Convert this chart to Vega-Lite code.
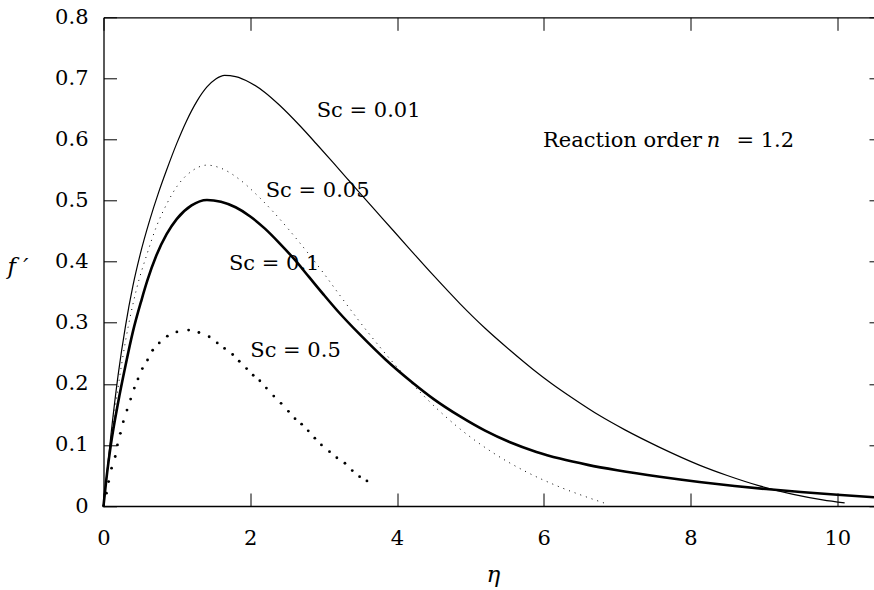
{
  "$schema": "https://vega.github.io/schema/vega-lite/v6.json",
  "width": 770.5,
  "height": 488.7,
  "autosize": "none",
  "padding": {"left": 103.5, "top": 17.3, "right": 0, "bottom": 84},
  "background": "white",
  "config": {
    "font": "DejaVu Serif",
    "view": {"stroke": null},
    "axis": {
      "grid": false,
      "domainColor": "black",
      "domainWidth": 1.3,
      "tickColor": "black",
      "tickWidth": 1,
      "labelColor": "black",
      "labelFont": "DejaVu Serif",
      "labelFontSize": 21,
      "titleColor": "black",
      "titleFont": "DejaVu Serif",
      "titleFontSize": 23,
      "titleFontStyle": "italic",
      "titleFontWeight": "normal"
    }
  },
  "datasets": {
    "curves": [
      {"Sc": "0.01", "eta": 0, "f": 0},
      {"Sc": "0.01", "eta": 0.1, "f": 0.115},
      {"Sc": "0.01", "eta": 0.2, "f": 0.215},
      {"Sc": "0.01", "eta": 0.3, "f": 0.295},
      {"Sc": "0.01", "eta": 0.4, "f": 0.36},
      {"Sc": "0.01", "eta": 0.5, "f": 0.412},
      {"Sc": "0.01", "eta": 0.63, "f": 0.468},
      {"Sc": "0.01", "eta": 0.75, "f": 0.513},
      {"Sc": "0.01", "eta": 0.86, "f": 0.55},
      {"Sc": "0.01", "eta": 1.0, "f": 0.594},
      {"Sc": "0.01", "eta": 1.13, "f": 0.63},
      {"Sc": "0.01", "eta": 1.27, "f": 0.662},
      {"Sc": "0.01", "eta": 1.41, "f": 0.686},
      {"Sc": "0.01", "eta": 1.53, "f": 0.699},
      {"Sc": "0.01", "eta": 1.65, "f": 0.705},
      {"Sc": "0.01", "eta": 1.8, "f": 0.703},
      {"Sc": "0.01", "eta": 2.0, "f": 0.693},
      {"Sc": "0.01", "eta": 2.2, "f": 0.677},
      {"Sc": "0.01", "eta": 2.4, "f": 0.656},
      {"Sc": "0.01", "eta": 2.68, "f": 0.622},
      {"Sc": "0.01", "eta": 2.9, "f": 0.593},
      {"Sc": "0.01", "eta": 3.13, "f": 0.562},
      {"Sc": "0.01", "eta": 3.35, "f": 0.532},
      {"Sc": "0.01", "eta": 3.54, "f": 0.506},
      {"Sc": "0.01", "eta": 3.8, "f": 0.471},
      {"Sc": "0.01", "eta": 4.17, "f": 0.421},
      {"Sc": "0.01", "eta": 4.5, "f": 0.377},
      {"Sc": "0.01", "eta": 4.86, "f": 0.331},
      {"Sc": "0.01", "eta": 5.2, "f": 0.291},
      {"Sc": "0.01", "eta": 5.54, "f": 0.255},
      {"Sc": "0.01", "eta": 5.85, "f": 0.224},
      {"Sc": "0.01", "eta": 6.1, "f": 0.201},
      {"Sc": "0.01", "eta": 6.4, "f": 0.176},
      {"Sc": "0.01", "eta": 6.76, "f": 0.148},
      {"Sc": "0.01", "eta": 7.1, "f": 0.125},
      {"Sc": "0.01", "eta": 7.58, "f": 0.096},
      {"Sc": "0.01", "eta": 8.12, "f": 0.067},
      {"Sc": "0.01", "eta": 8.5, "f": 0.05},
      {"Sc": "0.01", "eta": 8.94, "f": 0.033},
      {"Sc": "0.01", "eta": 9.4, "f": 0.019},
      {"Sc": "0.01", "eta": 9.8, "f": 0.01},
      {"Sc": "0.01", "eta": 10.1, "f": 0.005},

      {"Sc": "0.05", "eta": 0, "f": 0},
      {"Sc": "0.05", "eta": 0.1, "f": 0.105},
      {"Sc": "0.05", "eta": 0.2, "f": 0.195},
      {"Sc": "0.05", "eta": 0.3, "f": 0.27},
      {"Sc": "0.05", "eta": 0.45, "f": 0.355},
      {"Sc": "0.05", "eta": 0.6, "f": 0.415},
      {"Sc": "0.05", "eta": 0.72, "f": 0.457},
      {"Sc": "0.05", "eta": 0.86, "f": 0.494},
      {"Sc": "0.05", "eta": 1.0, "f": 0.523},
      {"Sc": "0.05", "eta": 1.2, "f": 0.548},
      {"Sc": "0.05", "eta": 1.41, "f": 0.558},
      {"Sc": "0.05", "eta": 1.6, "f": 0.553},
      {"Sc": "0.05", "eta": 1.86, "f": 0.534},
      {"Sc": "0.05", "eta": 2.1, "f": 0.508},
      {"Sc": "0.05", "eta": 2.31, "f": 0.482},
      {"Sc": "0.05", "eta": 2.68, "f": 0.43},
      {"Sc": "0.05", "eta": 3.0, "f": 0.381},
      {"Sc": "0.05", "eta": 3.22, "f": 0.345},
      {"Sc": "0.05", "eta": 3.56, "f": 0.291},
      {"Sc": "0.05", "eta": 3.93, "f": 0.237},
      {"Sc": "0.05", "eta": 4.4, "f": 0.176},
      {"Sc": "0.05", "eta": 4.86, "f": 0.126},
      {"Sc": "0.05", "eta": 5.31, "f": 0.087},
      {"Sc": "0.05", "eta": 5.76, "f": 0.056},
      {"Sc": "0.05", "eta": 6.22, "f": 0.031},
      {"Sc": "0.05", "eta": 6.6, "f": 0.014},
      {"Sc": "0.05", "eta": 6.87, "f": 0.003},

      {"Sc": "0.1", "eta": 0, "f": 0},
      {"Sc": "0.1", "eta": 0.05, "f": 0.055},
      {"Sc": "0.1", "eta": 0.1, "f": 0.1},
      {"Sc": "0.1", "eta": 0.2, "f": 0.17},
      {"Sc": "0.1", "eta": 0.3, "f": 0.23},
      {"Sc": "0.1", "eta": 0.4, "f": 0.285},
      {"Sc": "0.1", "eta": 0.52, "f": 0.338},
      {"Sc": "0.1", "eta": 0.6, "f": 0.37},
      {"Sc": "0.1", "eta": 0.72, "f": 0.41},
      {"Sc": "0.1", "eta": 0.86, "f": 0.445},
      {"Sc": "0.1", "eta": 1.0, "f": 0.47},
      {"Sc": "0.1", "eta": 1.2, "f": 0.492},
      {"Sc": "0.1", "eta": 1.41, "f": 0.501},
      {"Sc": "0.1", "eta": 1.6, "f": 0.498},
      {"Sc": "0.1", "eta": 1.8, "f": 0.489},
      {"Sc": "0.1", "eta": 2.0, "f": 0.474},
      {"Sc": "0.1", "eta": 2.2, "f": 0.454},
      {"Sc": "0.1", "eta": 2.4, "f": 0.43},
      {"Sc": "0.1", "eta": 2.6, "f": 0.404},
      {"Sc": "0.1", "eta": 2.8, "f": 0.375},
      {"Sc": "0.1", "eta": 3.0, "f": 0.346},
      {"Sc": "0.1", "eta": 3.2, "f": 0.318},
      {"Sc": "0.1", "eta": 3.5, "f": 0.28},
      {"Sc": "0.1", "eta": 3.85, "f": 0.239},
      {"Sc": "0.1", "eta": 4.2, "f": 0.203},
      {"Sc": "0.1", "eta": 4.5, "f": 0.175},
      {"Sc": "0.1", "eta": 4.86, "f": 0.1466},
      {"Sc": "0.1", "eta": 5.2, "f": 0.1233},
      {"Sc": "0.1", "eta": 5.54, "f": 0.1043},
      {"Sc": "0.1", "eta": 5.9, "f": 0.0885},
      {"Sc": "0.1", "eta": 6.22, "f": 0.0776},
      {"Sc": "0.1", "eta": 6.6, "f": 0.0673},
      {"Sc": "0.1", "eta": 7.0, "f": 0.0585},
      {"Sc": "0.1", "eta": 7.58, "f": 0.0478},
      {"Sc": "0.1", "eta": 8.12, "f": 0.0393},
      {"Sc": "0.1", "eta": 8.6, "f": 0.0328},
      {"Sc": "0.1", "eta": 9.03, "f": 0.0277},
      {"Sc": "0.1", "eta": 9.5, "f": 0.0229},
      {"Sc": "0.1", "eta": 10.0, "f": 0.0184},
      {"Sc": "0.1", "eta": 10.5, "f": 0.0143},

      {"Sc": "0.5", "eta": 0, "f": 0},
      {"Sc": "0.5", "eta": 0.04, "f": 0.021},
      {"Sc": "0.5", "eta": 0.07, "f": 0.04},
      {"Sc": "0.5", "eta": 0.11, "f": 0.062},
      {"Sc": "0.5", "eta": 0.16, "f": 0.081},
      {"Sc": "0.5", "eta": 0.19, "f": 0.1},
      {"Sc": "0.5", "eta": 0.23, "f": 0.119},
      {"Sc": "0.5", "eta": 0.27, "f": 0.138},
      {"Sc": "0.5", "eta": 0.32, "f": 0.157},
      {"Sc": "0.5", "eta": 0.37, "f": 0.175},
      {"Sc": "0.5", "eta": 0.42, "f": 0.193},
      {"Sc": "0.5", "eta": 0.47, "f": 0.208},
      {"Sc": "0.5", "eta": 0.53, "f": 0.225},
      {"Sc": "0.5", "eta": 0.6, "f": 0.239},
      {"Sc": "0.5", "eta": 0.67, "f": 0.255},
      {"Sc": "0.5", "eta": 0.76, "f": 0.267},
      {"Sc": "0.5", "eta": 0.87, "f": 0.278},
      {"Sc": "0.5", "eta": 1.0, "f": 0.285},
      {"Sc": "0.5", "eta": 1.16, "f": 0.288},
      {"Sc": "0.5", "eta": 1.3, "f": 0.284},
      {"Sc": "0.5", "eta": 1.44, "f": 0.277},
      {"Sc": "0.5", "eta": 1.55, "f": 0.267},
      {"Sc": "0.5", "eta": 1.65, "f": 0.258},
      {"Sc": "0.5", "eta": 1.76, "f": 0.248},
      {"Sc": "0.5", "eta": 1.85, "f": 0.237},
      {"Sc": "0.5", "eta": 1.95, "f": 0.225},
      {"Sc": "0.5", "eta": 2.04, "f": 0.214},
      {"Sc": "0.5", "eta": 2.13, "f": 0.205},
      {"Sc": "0.5", "eta": 2.22, "f": 0.193},
      {"Sc": "0.5", "eta": 2.32, "f": 0.18},
      {"Sc": "0.5", "eta": 2.42, "f": 0.168},
      {"Sc": "0.5", "eta": 2.52, "f": 0.155},
      {"Sc": "0.5", "eta": 2.61, "f": 0.143},
      {"Sc": "0.5", "eta": 2.7, "f": 0.134},
      {"Sc": "0.5", "eta": 2.79, "f": 0.123},
      {"Sc": "0.5", "eta": 2.88, "f": 0.111},
      {"Sc": "0.5", "eta": 2.97, "f": 0.1},
      {"Sc": "0.5", "eta": 3.08, "f": 0.089},
      {"Sc": "0.5", "eta": 3.18, "f": 0.079},
      {"Sc": "0.5", "eta": 3.29, "f": 0.07},
      {"Sc": "0.5", "eta": 3.39, "f": 0.058},
      {"Sc": "0.5", "eta": 3.49, "f": 0.048},
      {"Sc": "0.5", "eta": 3.59, "f": 0.041}
    ],
    "labels": [
      {"label": "Sc = 0.01", "eta": 2.905, "f": 0.637},
      {"label": "Sc = 0.05", "eta": 2.21, "f": 0.506},
      {"label": "Sc = 0.1", "eta": 1.71, "f": 0.386},
      {"label": "Sc = 0.5", "eta": 2.0, "f": 0.244},
      {"label": "Reaction order", "eta": 5.99, "f": 0.587},
      {"label": "= 1.2", "eta": 8.625, "f": 0.587}
    ]
  },
  "resolve": {"axis": {"x": "independent", "y": "independent"}},
  "layer": [
    {
      "data": {"name": "curves"},
      "transform": [{"filter": "datum.Sc === '0.01'"}],
      "mark": {"type": "line", "color": "black", "strokeWidth": 1.2, "interpolate": "monotone"},
      "encoding": {
        "x": {
          "field": "eta", "type": "quantitative",
          "scale": {"domain": [0, 10.5], "nice": false, "zero": false},
          "axis": {
            "orient": "bottom", "values": [0, 2, 4, 6, 8, 10], "format": "d",
            "tickSize": -13, "labelPadding": 34, "labelFlush": false,
            "title": "η", "titleAnchor": "start", "titleAlign": "center", "titleBaseline": "alphabetic",
            "titleX": 389.5, "titleY": 75
          }
        },
        "y": {
          "field": "f", "type": "quantitative",
          "scale": {"domain": [0, 0.8], "nice": false, "zero": false},
          "axis": {
            "orient": "left", "values": [0, 0.1, 0.2, 0.3, 0.4, 0.5, 0.6, 0.7, 0.8],
            "labelExpr": "datum.value === 0 ? '0' : format(datum.value, '.1f')",
            "tickSize": -13, "labelPadding": 28.5, "labelFlush": false,
            "title": "f ′", "titleAngle": 0, "titleAlign": "left", "titleBaseline": "alphabetic",
            "titleX": -96.5, "titleY": 255.7
          }
        }
      }
    },
    {
      "data": {"name": "curves"},
      "transform": [{"filter": "datum.Sc === '0.05'"}],
      "mark": {"type": "line", "color": "black", "strokeWidth": 1, "strokeDash": [1, 5], "interpolate": "monotone"},
      "encoding": {
        "x": {
          "field": "eta", "type": "quantitative",
          "axis": {"orient": "top", "values": [0, 2, 4, 6, 8, 10], "tickSize": -13, "labels": false, "title": null}
        },
        "y": {
          "field": "f", "type": "quantitative",
          "axis": {"orient": "right", "values": [0, 0.1, 0.2, 0.3, 0.4, 0.5, 0.6, 0.7, 0.8], "tickSize": -5, "labels": false, "domain": false, "title": null}
        }
      }
    },
    {
      "data": {"name": "curves"},
      "transform": [{"filter": "datum.Sc === '0.1'"}],
      "mark": {"type": "line", "color": "black", "strokeWidth": 2.6, "interpolate": "monotone"},
      "encoding": {
        "x": {"field": "eta", "type": "quantitative", "axis": null},
        "y": {"field": "f", "type": "quantitative", "axis": null}
      }
    },
    {
      "data": {"name": "curves"},
      "transform": [{"filter": "datum.Sc === '0.5'"}],
      "mark": {"type": "point", "filled": true, "color": "black", "opacity": 1, "size": 8},
      "encoding": {
        "x": {"field": "eta", "type": "quantitative", "axis": null},
        "y": {"field": "f", "type": "quantitative", "axis": null}
      }
    },
    {
      "data": {"name": "labels"},
      "mark": {"type": "text", "align": "left", "baseline": "alphabetic", "font": "DejaVu Serif", "fontSize": 21, "color": "black"},
      "encoding": {
        "x": {"field": "eta", "type": "quantitative", "axis": null},
        "y": {"field": "f", "type": "quantitative", "axis": null},
        "text": {"field": "label"}
      }
    },
    {
      "data": {"values": [{"label": "n", "eta": 8.22, "f": 0.587}]},
      "mark": {"type": "text", "align": "left", "baseline": "alphabetic", "font": "DejaVu Serif", "fontStyle": "italic", "fontSize": 21, "color": "black"},
      "encoding": {
        "x": {"field": "eta", "type": "quantitative", "axis": null},
        "y": {"field": "f", "type": "quantitative", "axis": null},
        "text": {"field": "label"}
      }
    }
  ]
}
